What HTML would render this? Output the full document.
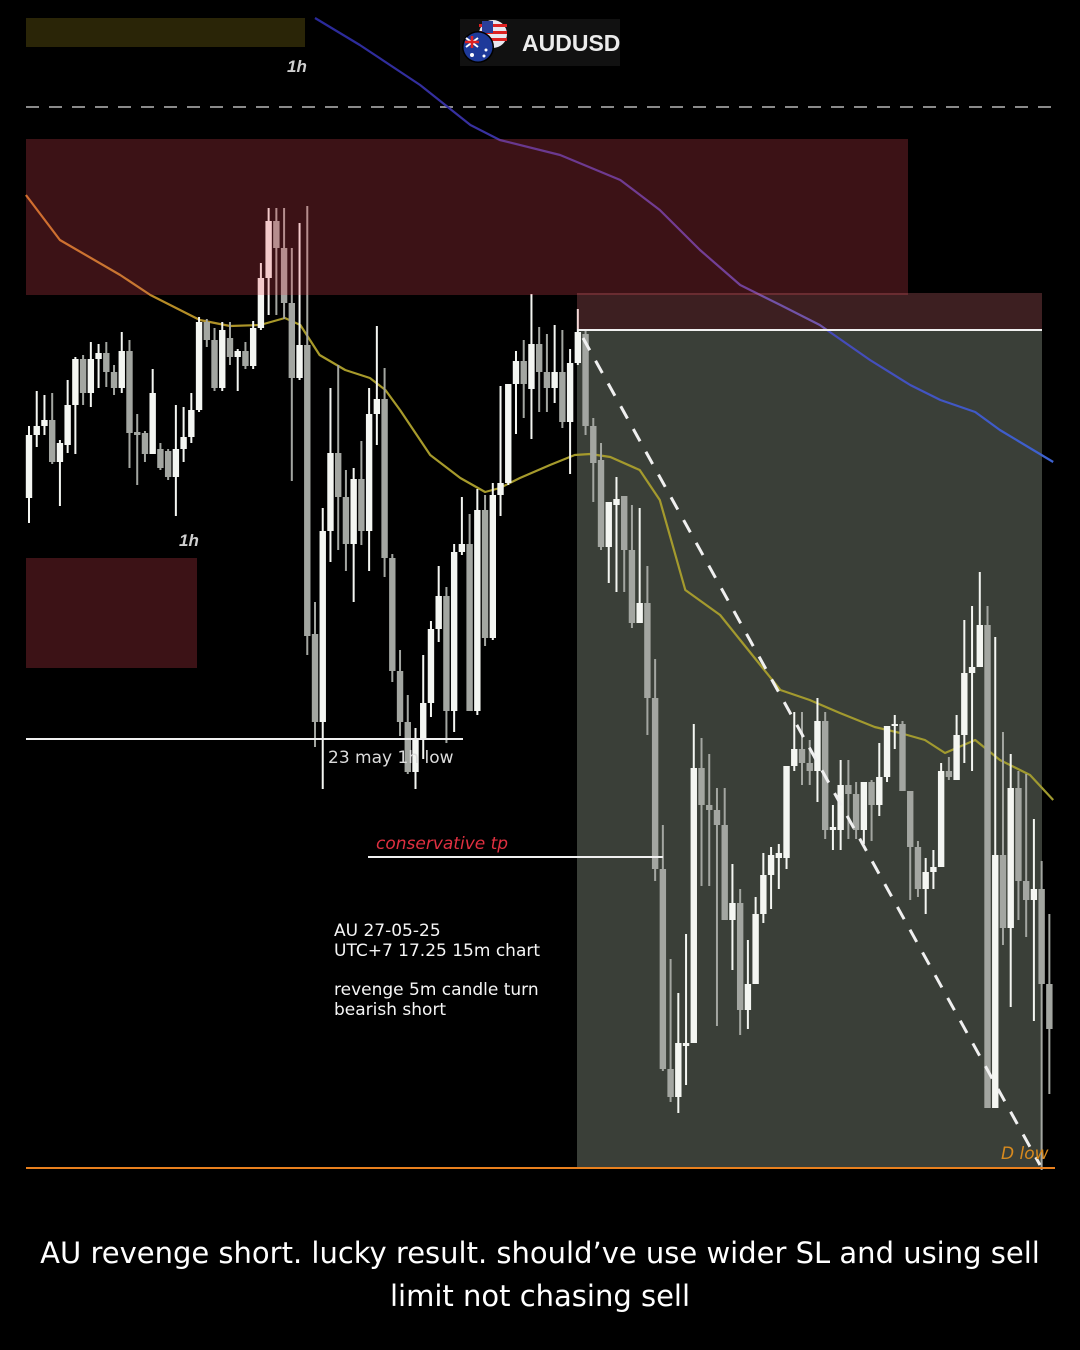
<!DOCTYPE html>
<html><head><meta charset="utf-8"><style>
html,body{margin:0;padding:0;background:#000;}
body{width:1080px;height:1350px;overflow:hidden;position:relative;font-family:"Liberation Sans",sans-serif;}
svg{position:absolute;left:0;top:0;}
.caption{position:absolute;left:0;top:1232px;width:1080px;text-align:center;color:#fff;font-family:"DejaVu Sans","Liberation Sans",sans-serif;font-size:29px;line-height:43px;}
</style></head><body>
<svg id="chart" width="1080" height="1350" viewBox="0 0 1080 1350" xmlns="http://www.w3.org/2000/svg">
  <rect x="26" y="18" width="279" height="29" fill="#2a2507"/>
  <text x="287" y="72" fill="#cfcfcf" font-size="17" font-style="italic" font-weight="bold" font-family="Liberation Sans, sans-serif">1h</text>
  <line x1="26" y1="107" x2="1055" y2="107" stroke="#8a8a8a" stroke-width="2" stroke-dasharray="13,10"/>
  <rect x="577" y="330" width="465" height="838" fill="#3a3f38"/>
  <rect x="26" y="558" width="171" height="110" fill="#3c1216"/>
  <text x="179" y="546" fill="#cfcfcf" font-size="17" font-style="italic" font-weight="bold" font-family="Liberation Sans, sans-serif">1h</text>
  <g id="maLayer"></g>
  <g id="candleLayer"></g>
  <rect x="26" y="139" width="882" height="156" fill="rgba(240,72,88,0.25)"/>
  <rect x="577" y="293" width="465" height="37" fill="rgba(244,124,132,0.25)"/>
  <line x1="577" y1="330" x2="1042" y2="330" stroke="#f0f0f0" stroke-width="2"/>
  <line x1="26" y1="739" x2="463" y2="739" stroke="#f0f0f0" stroke-width="2"/>
  <text x="328" y="763" fill="#dcdcdc" font-size="17" font-family="DejaVu Sans, sans-serif">23 may 1h low</text>
  <text x="376" y="849" fill="#e03040" font-size="17" font-style="italic" font-family="DejaVu Sans, sans-serif">conservative tp</text>
  <line x1="368" y1="857" x2="663" y2="857" stroke="#f0f0f0" stroke-width="2"/>
  <g fill="#f5f5f5" font-size="17" font-family="DejaVu Sans, sans-serif">
    <text x="334" y="936">AU 27-05-25</text>
    <text x="334" y="956">UTC+7 17.25 15m chart</text>
    <text x="334" y="995">revenge 5m candle turn</text>
    <text x="334" y="1015">bearish short</text>
  </g>
  <line x1="583" y1="338" x2="1040" y2="1165" stroke="#f0f0f0" stroke-width="3" stroke-dasharray="14,12"/>
  <line x1="26" y1="1168" x2="1055" y2="1168" stroke="#e8801e" stroke-width="2"/>
  <text x="1001" y="1159" fill="#d88a1e" font-size="17" font-style="italic" font-family="DejaVu Sans, sans-serif">D low</text>
  <g>
    <rect x="460" y="19" width="160" height="47" fill="#111"/>
    <circle cx="493" cy="34" r="14" fill="#e8e8f0"/>
    <rect x="479" y="24" width="28" height="3" fill="#d22"/>
    <rect x="479" y="31" width="28" height="3" fill="#d22"/>
    <rect x="479" y="38" width="28" height="3" fill="#d22"/>
    <rect x="482" y="21" width="11" height="12" fill="#2a3f9a"/>
    <circle cx="478" cy="47" r="16" fill="#000"/>
    <circle cx="478" cy="47" r="14.5" fill="#1e3a9a"/>
    <path d="M466 38 L478 47 M478 38 L466 47" stroke="#fff" stroke-width="2"/>
    <path d="M472 36 L472 48 M465 42 L479 42" stroke="#d22" stroke-width="2.5"/>
    <circle cx="486" cy="50" r="1.5" fill="#fff"/><circle cx="484" cy="56" r="1.5" fill="#fff"/><circle cx="472" cy="55" r="2" fill="#fff"/>
    <text x="522" y="51" fill="#ececec" font-size="23" font-weight="bold" font-family="Liberation Sans, sans-serif">AUDUSD</text>
  </g>
</svg>
<div class="caption">AU revenge short. lucky result. should’ve use wider SL and using sell<br>limit not chasing sell</div>
<script>
// price data in pips above a reference (higher = higher price)
const openPrices = [702,765,774,780,738,755,795,841,807,841,847,828,812,849,768,767,746,751,749,723,751,763,790,878,860,812,862,843,849,834,872,922,979,952,897,822,855,566,478,669,747,703,656,721,669,786,801,642,529,478,428,460,497,571,604,489,648,656,489,690,562,705,717,816,839,811,856,828,812,828,778,837,
866,774,740,653,695,704,650,577,597,502,331,131,103,154,157,432,395,390,375,280,297,190,216,286,325,342,342,434,451,437,429,479,370,370,415,406,370,418,395,423,474,476,409,353,311,328,333,429,420,465,527,533,575,92,345,272,412,319,300,311,216];
const highPrices = [774,809,805,807,760,820,843,845,858,856,858,835,868,860,786,769,831,757,751,795,793,807,883,881,872,878,878,851,858,879,937,992,992,992,952,977,994,598,692,812,835,730,732,759,812,874,832,646,550,505,472,545,579,634,613,656,703,686,711,705,717,814,816,849,860,906,873,866,875,870,851,891,
869,782,757,698,723,704,695,692,634,541,375,241,207,266,476,462,446,412,412,336,311,260,303,347,353,356,434,488,488,460,502,488,395,440,440,418,418,420,457,474,485,479,409,359,342,350,437,443,485,580,594,628,594,563,468,446,429,426,381,339,286];
const lowPrices = [677,753,765,736,694,747,746,795,793,812,813,805,807,732,715,738,746,730,720,684,738,757,788,853,809,809,835,809,831,831,870,885,885,881,719,820,545,453,411,638,650,629,598,655,629,755,623,518,464,426,411,441,483,558,457,468,645,489,485,554,560,684,715,766,782,761,788,788,797,772,726,835,
765,698,650,617,608,608,572,577,465,319,129,98,87,115,157,314,314,174,280,230,165,171,216,277,291,311,331,429,415,415,398,361,350,350,361,361,356,359,384,418,451,409,300,303,286,311,333,420,420,437,429,533,92,92,255,193,280,263,179,30,106];
const closePrices = [765,774,780,738,757,795,841,807,841,847,828,812,849,767,765,746,807,732,723,751,763,790,878,860,812,870,843,849,834,872,922,979,952,897,822,855,564,478,669,747,703,656,721,669,786,801,642,529,478,428,460,497,571,604,489,648,656,489,690,562,705,717,816,839,816,856,828,812,828,778,837,868,
774,737,653,698,701,650,577,597,502,331,131,103,157,157,432,395,390,375,280,297,190,216,286,325,345,347,434,451,437,429,479,370,373,415,406,370,418,395,423,474,476,409,353,311,328,333,429,423,465,527,533,575,92,345,272,412,319,300,311,216,171];
// moving averages: candle index / value
const emaFastIdx = [-0.4,4.0,11.8,15.7,22.1,26.0,29.9,33.1,35.1,37.6,40.9,44.1,46.1,48.0,51.9,55.8,59.0,60.9,63.5,67.4,70.6,72.6,75.2,79.0,81.6,84.9,89.4,92.0,94.6,97.2,101.0,104.9,109.4,112.7,115.9,118.5,122.4,125.6,129.5,132.5];
const emaFastVal = [1005,960,925,905,880,874,875,882,875,845,830,822,810,790,745,722,708,712,722,735,745,746,743,730,700,610,585,560,535,510,500,487,473,467,460,447,460,440,425,400];
const emaSlowIdx = [37.0,42.8,50.6,57.1,60.9,68.7,76.5,81.6,86.8,92.0,97.2,102.3,108.8,114.0,117.9,122.4,125.6,132.5];
const emaSlowVal = [1182,1155,1115,1075,1060,1045,1020,990,950,915,895,875,840,815,800,788,770,738];

const NS = 'http://www.w3.org/2000/svg';
function xOf(i){ return 29 + i * 7.73; }
function yOf(v){ return 1200 - v; }

const cl = document.getElementById('candleLayer');
for (let i = 0; i < openPrices.length; i++) {
  const o = openPrices[i], h = highPrices[i], l = lowPrices[i], c = closePrices[i];
  const up = c >= o;
  const col = up ? '#f4f6f2' : '#a3a6a1';
  const x = xOf(i);
  const g = document.createElementNS(NS, 'g');
  
  
  const w = document.createElementNS(NS, 'line');
  w.setAttribute('x1', x); w.setAttribute('x2', x);
  w.setAttribute('y1', yOf(h)); w.setAttribute('y2', yOf(l));
  w.setAttribute('stroke', col); w.setAttribute('stroke-width', '2');
  g.appendChild(w);
  const b = document.createElementNS(NS, 'rect');
  const top = yOf(Math.max(o, c)), bot = yOf(Math.min(o, c));
  b.setAttribute('x', x - 3.2); b.setAttribute('width', 6.4);
  b.setAttribute('y', top); b.setAttribute('height', Math.max(2, bot - top));
  b.setAttribute('fill', col);
  g.appendChild(b);
  cl.appendChild(g);
}

const ml = document.getElementById('maLayer');
const defs = document.createElementNS(NS, 'defs');
defs.innerHTML = '<linearGradient id="gFast" x1="0" x2="1" y1="0" y2="0"><stop offset="0" stop-color="#c87a22"/><stop offset="0.25" stop-color="#a89a2a"/><stop offset="1" stop-color="#a09a30"/></linearGradient>' +
  '<linearGradient id="gSlow" x1="0" x2="1" y1="0" y2="0"><stop offset="0" stop-color="#2a2a9a"/><stop offset="0.5" stop-color="#4b3aa8"/><stop offset="1" stop-color="#3d62d0"/></linearGradient>';
ml.appendChild(defs);
function maPath(idx, val, stroke, name) {
  const p = document.createElementNS(NS, 'path');
  let d = '';
  for (let k = 0; k < idx.length; k++) d += (k ? 'L' : 'M') + xOf(idx[k]).toFixed(1) + ' ' + yOf(val[k]).toFixed(1);
  p.setAttribute('d', d);
  p.setAttribute('fill', 'none');
  p.setAttribute('stroke', stroke);
  p.setAttribute('stroke-width', '2.2');
  p.setAttribute('stroke-linejoin', 'round');
  
  
  ml.appendChild(p);
}
maPath(emaFastIdx, emaFastVal, 'url(#gFast)', 'fast-moving-average');
maPath(emaSlowIdx, emaSlowVal, 'url(#gSlow)', 'slow-moving-average');
</script>
</body></html>
